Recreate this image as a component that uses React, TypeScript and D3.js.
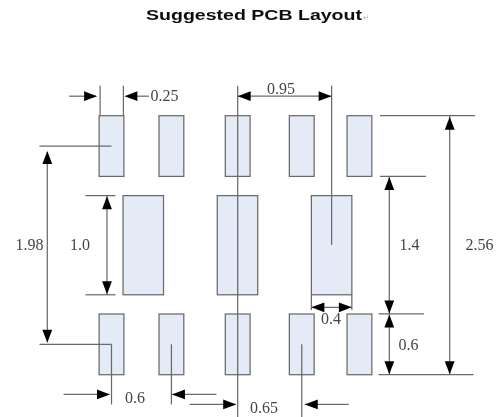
import React from "react";
import * as d3 from "d3";

const titleText = "Suggested PCB Layout";
const smallPadCenters = [0, 0.592, 1.247, 1.88, 2.45];
const largePadCenters = [0.314, 1.245, 2.175];
const smallPadWidth = 0.245;
const smallPadHeight = 0.6;
const largePadWidth = 0.4;
const largePadHeight = 0.98;
const smallRowTops = [0, 1.96];
const largeRowTop = 0.79;
const dimensionLabels = ["0.25", "0.95", "1.98", "1.0", "1.4", "2.56", "0.4", "0.6", "0.6", "0.65"];

const W = 504;
const H = 417;
const LINE = "#6a6a6a";
const HEAD = "#050505";
const PAD_FILL = "#e4ebf6";
const PAD_STROKE = "#6a6a6a";
const TEXT = "#454545";

const x = d3.scaleLinear().domain([0, 1]).range([111.5, 212.7]);
const y = d3.scaleLinear().domain([0, 2.56]).range([115.7, 374.7]);
const dw = (v: number) => x(v) - x(0);
const dh = (v: number) => y(v) - y(0);

type P = [number, number];
const L = ({ a, b, w = 1.25, c = LINE }: { a: P; b: P; w?: number; c?: string }) => (
  <line x1={a[0]} y1={a[1]} x2={b[0]} y2={b[1]} stroke={c} strokeWidth={w} />
);

// Filled arrow head: tip at (tx,ty), pointing in direction (dx,dy)
const Head = ({ t, d, len = 13, half = 4.9 }: { t: P; d: P; len?: number; half?: number }) => {
  const [tx, ty] = t;
  const [dx, dy] = d;
  const bx = tx - dx * len;
  const by = ty - dy * len;
  const pts = [[tx, ty], [bx - dy * half, by + dx * half], [bx + dy * half, by - dx * half]];
  return <polygon points={pts.map((p) => p.join(",")).join(" ")} fill={HEAD} />;
};

const Label = ({ px, py, children }: { px: number; py: number; children: React.ReactNode }) => (
  <text x={px} y={py} fontFamily="'Liberation Serif', serif" fontSize={16} fill={TEXT} textAnchor="middle">
    {children}
  </text>
);

export default function App() {
  const [c0, c1, c2, c3] = smallPadCenters;
  const p1L = x(c0 - smallPadWidth / 2);
  const p1R = x(c0 + smallPadWidth / 2);
  const large3 = largePadCenters[2];
  const lL = x(large3 - largePadWidth / 2);
  const lR = x(large3 + largePadWidth / 2);
  const lC = x(large3);
  const topTop = y(smallRowTops[0]);
  const topBot = y(smallRowTops[0] + smallPadHeight);
  const botTop = y(smallRowTops[1]);
  const botBot = y(smallRowTops[1] + smallPadHeight);
  const largeTop = y(largeRowTop);
  const largeBot = y(largeRowTop + largePadHeight);
  const topMid = y(smallRowTops[0] + smallPadHeight / 2);
  const botMid = y(smallRowTops[1] + smallPadHeight / 2);
  const yA = topTop - 19.5;
  const yB = botBot + 19.7;
  const yC = botBot + 29.7;
  const xC = x(c2);
  const topExt = topTop - 30;
  const x14 = 389.3;
  const x256 = 449.7;
  const x198 = 47.3;
  const x10 = 107;

  return (
    <svg
      width={W}
      height={H}
      viewBox={`0 0 ${W} ${H}`}
      style={{ position: "absolute", left: 0, top: 0, background: "#fff" }}
    >
      <defs>
        <filter id="soft" x="-5%" y="-5%" width="110%" height="110%">
          <feGaussianBlur stdDeviation="0.45" />
        </filter>
      </defs>
      <g filter="url(#soft)">
        <text x={146} y={20} fontFamily="'Liberation Sans', Arial, sans-serif" fontWeight="bold" fontSize={15.5} fill="#111" textLength={216} lengthAdjust="spacingAndGlyphs">
          {titleText}
        </text>
        <text x={363} y={20} fontFamily="'DejaVu Sans', sans-serif" fontSize={7} fill="#aaa">↵</text>

        {smallRowTops.map((top) =>
          smallPadCenters.map((c) => (
            <rect key={`${top}-${c}`} x={x(c - smallPadWidth / 2)} y={y(top)} width={dw(smallPadWidth)} height={dh(smallPadHeight)} fill={PAD_FILL} stroke={PAD_STROKE} strokeWidth={1.25} />
          ))
        )}
        {largePadCenters.map((c) => (
          <rect key={c} x={x(c - largePadWidth / 2)} y={y(largeRowTop)} width={dw(largePadWidth)} height={dh(largePadHeight)} fill={PAD_FILL} stroke={PAD_STROKE} strokeWidth={1.25} />
        ))}

        {/* 0.25 */}
        <L a={[p1L + 1, topExt]} b={[p1L + 1, topTop]} />
        <L a={[p1R - 0.5, topExt]} b={[p1R - 0.5, topTop]} />
        <L a={[p1L - 30, yA]} b={[p1L - 3, yA]} />
        <Head t={[p1L - 2, yA]} d={[1, 0]} />
        <L a={[p1R + 13, yA]} b={[p1R + 25, yA]} />
        <Head t={[p1R + 0.5, yA]} d={[-1, 0]} />
        <Label px={164.5} py={100.5}>{dimensionLabels[0]}</Label>

        {/* 0.95 */}
        <L a={[xC, topExt]} b={[xC, H + 2]} />
        <L a={[lC, topExt]} b={[lC, 245]} />
        <L a={[xC, yA]} b={[lC, yA]} />
        <Head t={[xC, yA]} d={[-1, 0]} />
        <Head t={[lC, yA]} d={[1, 0]} />
        <Label px={281} py={93.5}>{dimensionLabels[1]}</Label>

        {/* 1.98 */}
        <L a={[39.5, topMid]} b={[x(c0), topMid]} />
        <L a={[39.5, botMid]} b={[x(c0), botMid]} />
        <L a={[x(c0), botMid]} b={[x(c0), yC]} />
        <L a={[x198, topMid + 6]} b={[x198, botMid - 2]} />
        <Head t={[x198, topMid + 5]} d={[0, -1]} />
        <Head t={[x198, botMid - 1.5]} d={[0, 1]} />
        <Label px={29.5} py={249.5}>{dimensionLabels[2]}</Label>

        {/* 1.0 */}
        <L a={[85.5, largeTop]} b={[115.5, largeTop]} />
        <L a={[85.5, largeBot]} b={[115.5, largeBot]} />
        <L a={[x10, largeTop]} b={[x10, largeBot]} />
        <Head t={[x10, largeTop + 0.5]} d={[0, -1]} />
        <Head t={[x10, largeBot - 0.5]} d={[0, 1]} />
        <Label px={80} py={249.5}>{dimensionLabels[3]}</Label>

        {/* 1.4 and 2.56 */}
        <L a={[380, topTop]} b={[475, topTop]} />
        <L a={[380, topBot]} b={[426, topBot]} />
        <L a={[378.5, botTop]} b={[424, botTop]} />
        <L a={[378.5, botBot]} b={[473.5, botBot]} />
        <L a={[x14, topBot]} b={[x14, botBot]} />
        <Head t={[x14, topBot + 0.5]} d={[0, -1]} />
        <Head t={[x14, botTop - 0.5]} d={[0, 1]} />
        <Head t={[x14, botTop + 0.5]} d={[0, -1]} />
        <Head t={[x14, botBot - 0.5]} d={[0, 1]} />
        <L a={[x256, topTop]} b={[x256, botBot]} />
        <Head t={[x256, topTop + 1]} d={[0, -1]} />
        <Head t={[x256, botBot - 0.5]} d={[0, 1]} />
        <Label px={409.5} py={249.5}>{dimensionLabels[4]}</Label>
        <Label px={479.5} py={249.5}>{dimensionLabels[5]}</Label>

        {/* 0.4 */}
        <L a={[lL, largeBot]} b={[lL, 310]} />
        <L a={[lR, largeBot]} b={[lR, 310]} />
        <L a={[lL, 307.3]} b={[lR, 307.3]} />
        <Head t={[lL, 307.3]} d={[-1, 0]} />
        <Head t={[lR, 307.3]} d={[1, 0]} />
        <Label px={331} py={323.5}>{dimensionLabels[6]}</Label>
        <Label px={408.5} py={349.5}>{dimensionLabels[7]}</Label>

        {/* 0.6 pitch */}
        <L a={[x(c1), botMid]} b={[x(c1), yC]} />
        <L a={[p1L - 35.5, yB]} b={[x(c0) - 2, yB]} />
        <Head t={[x(c0) - 1.5, yB]} d={[1, 0]} />
        <L a={[x(c1) + 1, yB]} b={[x(c1) + 45, yB]} />
        <Head t={[x(c1) + 0.5, yB]} d={[-1, 0]} />
        <Label px={135} py={403}>{dimensionLabels[8]}</Label>

        {/* 0.65 pitch */}
        <L a={[x(c3), botMid]} b={[x(c3), H + 2]} />
        <L a={[xC - 48, yC]} b={[xC - 2, yC]} />
        <Head t={[xC - 1.5, yC]} d={[1, 0]} />
        <L a={[x(c3) + 3, yC]} b={[x(c3) + 47, yC]} />
        <Head t={[x(c3) + 3, yC]} d={[-1, 0]} />
        <Label px={264} py={413}>{dimensionLabels[9]}</Label>
      </g>
    </svg>
  );
}
